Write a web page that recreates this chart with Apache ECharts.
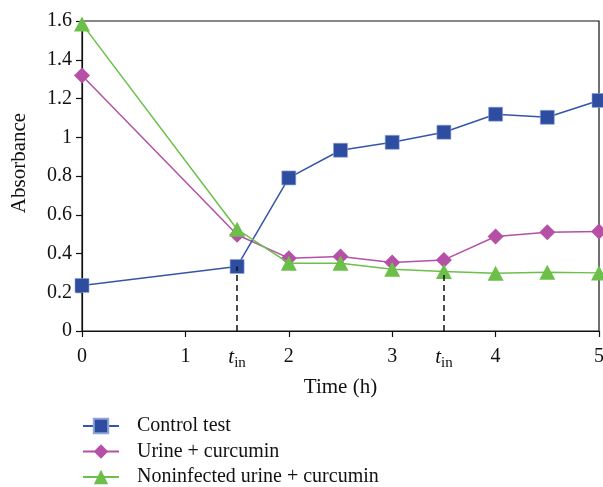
<!DOCTYPE html>
<html><head><meta charset="utf-8">
<script src="https://cdn.jsdelivr.net/npm/echarts@6/dist/echarts.min.js"></script>
<style>html,body{margin:0;padding:0;background:#fff}#c{width:603px;height:487px}</style>
</head><body><div id="c"></div>
<script>
const times = [0, 1.5, 2, 2.5, 3, 3.5, 4, 4.5, 5];
const controlTest = [0.235, 0.333, 0.79, 0.933, 0.974, 1.026, 1.119, 1.103, 1.19];
const urineCurcumin = [1.319, 0.497, 0.376, 0.384, 0.353, 0.367, 0.488, 0.51, 0.514];
const noninfectedCurcumin = [1.585, 0.525, 0.35, 0.35, 0.319, 0.307, 0.298, 0.303, 0.30];
const xTickValues = [0, 1, 2, 3, 4, 5];
const xLabelValues = [0, 1, 1.5, 2, 3, 3.5, 4, 5];
const tinPositions = [1.5, 3.5];
const seriesNames = ['Control test', 'Urine + curcumin', 'Noninfected urine + curcumin'];

const FONT = 'Liberation Serif';
const pair = (xs, ys) => xs.map((x, i) => [x, ys[i]]);
const valAt = (arr, x) => arr[times.indexOf(x)];

const chart = echarts.init(document.getElementById('c'), null, {renderer: 'canvas'});
const dashLines = [
  [{coord: [tinPositions[0], 0]}, {coord: [tinPositions[0], valAt(controlTest, tinPositions[0])]}],
  [{coord: [tinPositions[1], 0]}, {coord: [tinPositions[1], valAt(noninfectedCurcumin, tinPositions[1])]}]
];
chart.setOption({
  animation: false,
  backgroundColor: '#fff',
  textStyle: {fontFamily: FONT},
  grid: {left: 82, right: 4, top: 21, bottom: 156, show: true, borderColor: '#111', borderWidth: 1.2,
    containLabel: false, outerBoundsMode: 'none'},
  legend: {
    orient: 'vertical', left: 77, top: 411, height: 80,
    itemWidth: 36, itemHeight: 18, itemGap: 5.5,
    textStyle: {fontFamily: FONT, fontSize: 20, lineHeight: 20, color: '#111', padding: [0, 0, 0, 13]},
    data: seriesNames
  },
  xAxis: {
    type: 'value', min: 0, max: 5, interval: 1,
    name: 'Time (h)', nameLocation: 'middle', nameGap: 46,
    nameTextStyle: {fontFamily: FONT, fontSize: 21, color: '#111'},
    axisLine: {lineStyle: {color: '#111', width: 1.2}},
    axisTick: {show: true, length: 6, lineStyle: {color: '#111', width: 1.2}, customValues: xTickValues},
    splitLine: {show: false},
    axisLabel: {
      customValues: xLabelValues, margin: 16,
      fontFamily: FONT, fontSize: 20, color: '#111',
      formatter: v => (tinPositions.indexOf(v) >= 0 ? '{t|t}{s|in}' : String(v)),
      rich: {
        t: {fontFamily: FONT, fontStyle: 'italic', fontSize: 21, color: '#111', verticalAlign: 'bottom'},
        s: {fontFamily: FONT, fontSize: 15, color: '#111', verticalAlign: 'bottom', padding: [0, 0, -3, 0]}
      }
    }
  },
  yAxis: {
    type: 'value', min: 0, max: 1.6, interval: 0.2,
    name: 'Absorbance', nameLocation: 'middle', nameGap: 52,
    nameTextStyle: {fontFamily: FONT, fontSize: 21, color: '#111', padding: [0, 0, 0, 26]},
    axisLine: {show: true, lineStyle: {color: '#111', width: 1.2}},
    axisTick: {show: true, length: 6, lineStyle: {color: '#111', width: 1.2}},
    splitLine: {show: false},
    axisLabel: {fontFamily: FONT, fontSize: 20, color: '#111', margin: 10,
      formatter: v => String(Math.round(v * 10) / 10)}
  },
  series: [
    {
      name: seriesNames[0], type: 'line', data: pair(times, controlTest),
      symbol: 'rect', symbolSize: 14,
      lineStyle: {color: '#3555A8', width: 1.5},
      itemStyle: {color: '#2E4DA0', borderColor: '#8FA3D6', borderWidth: 0.6},
      z: 3,
      markLine: {
        silent: true, symbol: 'none', label: {show: false},
        lineStyle: {color: '#111', type: [6, 4], width: 1.5},
        data: dashLines
      }
    },
    {
      name: seriesNames[1], type: 'line', data: pair(times, urineCurcumin),
      symbol: 'diamond', symbolSize: [16, 16],
      lineStyle: {color: '#B550A6', width: 1.5},
      itemStyle: {color: '#B550A6'},
      z: 2
    },
    {
      name: seriesNames[2], type: 'line', data: pair(times, noninfectedCurcumin),
      symbol: 'triangle', symbolSize: [16, 15],
      lineStyle: {color: '#6CC04A', width: 1.5},
      itemStyle: {color: '#6CC04A'},
      z: 4
    }
  ]
});
</script></body></html>
